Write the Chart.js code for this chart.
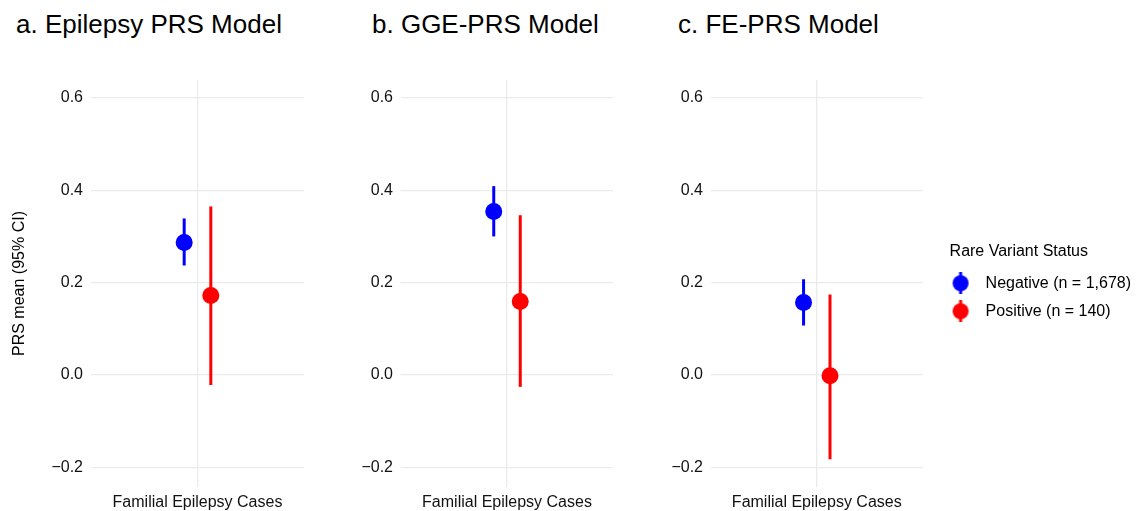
<!DOCTYPE html>
<html>
<head>
<meta charset="utf-8">
<script src="https://cdn.jsdelivr.net/npm/chart.js@4/dist/chart.umd.min.js"></script>
<style>
  html, body { margin: 0; padding: 0; background: #fff; }
  body { width: 1146px; height: 511px; position: relative; overflow: hidden; font-family: "Liberation Sans", Arial, sans-serif; }
  .title { position: absolute; top: 11px; font-size: 26px; line-height: 26px; color: #000; white-space: nowrap; }
  .panel { position: absolute; top: 0; height: 511px; }
</style>
</head>
<body>
<div class="title" style="left:16px">a. Epilepsy PRS Model</div>
<div class="title" style="left:372px">b. GGE-PRS Model</div>
<div class="title" style="left:678px">c. FE-PRS Model</div>
<div class="panel" style="left:0px;width:304px"><canvas id="p0"></canvas></div>
<div class="panel" style="left:340px;width:273px"><canvas id="p1"></canvas></div>
<div class="panel" style="left:640px;width:506px"><canvas id="p2"></canvas></div>
<script>
// values
const panelTitles = ['a. Epilepsy PRS Model', 'b. GGE-PRS Model', 'c. FE-PRS Model'];
const category = 'Familial Epilepsy Cases';
const groups = ['Negative (n = 1,678)', 'Positive (n = 140)'];
const groupColors = ['#0000ff', '#ff0000'];
const negMean = [0.287, 0.354, 0.157];
const negLo = [0.237, 0.300, 0.107];
const negHi = [0.339, 0.409, 0.207];
const posMean = [0.172, 0.159, -0.002];
const posLo = [-0.022, -0.026, -0.183];
const posHi = [0.365, 0.346, 0.174];
const yTicks = [-0.2, 0.0, 0.2, 0.4, 0.6];
const dodge = 0.075;

Chart.defaults.font.family = '"Liberation Sans", Arial, sans-serif';
Chart.defaults.font.size = 16;
Chart.defaults.color = '#111';

// legend key: point with a vertical range line, drawn a bit left of the image centre
function keyIcon(color) {
    var c = document.createElement('canvas');
    c.width = 40;
    c.height = 22;
    var g = c.getContext('2d');
    g.strokeStyle = color;
    g.lineWidth = 3;
    g.beginPath();
    g.moveTo(11, 0);
    g.lineTo(11, 22);
    g.stroke();
    g.fillStyle = color;
    g.beginPath();
    g.arc(11, 11, 8, 0, Math.PI * 2);
    g.fill();
    return c;
}

function makePanel(i, yWidth, withYTitle, withLegend) {
    var means = [negMean[i], posMean[i]];
    var los = [negLo[i], posLo[i]];
    var his = [negHi[i], posHi[i]];
    var xs = [1 - dodge, 1 + dodge];
    var datasets = [];

    for (var k = 0; k < 2; k++) {
        datasets.push({
            type: 'line',
            label: groups[k] + ' CI',
            data: [{x: xs[k], y: los[k]}, {x: xs[k], y: his[k]}],
            borderColor: groupColors[k],
            borderWidth: 3,
            pointRadius: 0,
            fill: false
        });
    }
    for (var k = 0; k < 2; k++) {
        datasets.push({
            type: 'scatter',
            label: groups[k],
            data: [{x: xs[k], y: means[k]}],
            backgroundColor: groupColors[k],
            borderColor: groupColors[k],
            pointRadius: 8.5,
            pointHoverRadius: 8.5,
            borderWidth: 0
        });
    }

    var scales = {
        x: {
            type: 'linear',
            min: 0.4,
            max: 1.6,
            afterBuildTicks: function (s) { s.ticks = [{value: 1}]; },
            afterFit: function (s) { s.height = 24; },
            border: { display: false },
            grid: { color: '#ebebeb', lineWidth: 1.3, drawTicks: false },
            ticks: {
                padding: 6,
                maxRotation: 0,
                color: '#111',
                callback: function () { return category; }
            }
        },
        y: {
            min: -0.243,
            max: 0.639,
            afterBuildTicks: function (s) { s.ticks = yTicks.map(function (v) { return {value: v}; }); },
            afterFit: function (s) { s.width = yWidth; },
            border: { display: false },
            grid: { color: '#ebebeb', lineWidth: 1.3, drawTicks: false },
            title: {
                display: withYTitle,
                text: 'PRS mean (95% CI)',
                color: '#000',
                font: { size: 16 },
                padding: { top: 10, bottom: 0 }
            },
            ticks: {
                padding: 8,
                color: '#111',
                callback: function (v) { return (v < 0 ? '\u2212' : '') + Math.abs(v).toFixed(1); }
            }
        }
    };

    if (withLegend) {
        // empty right axis used as the gap between panel and legend
        scales.gap = {
            type: 'linear',
            position: 'right',
            axis: 'y',
            grid: { display: false },
            border: { display: false },
            ticks: { display: false },
            afterFit: function (s) { s.width = 27; }
        };
    }

    return new Chart(document.getElementById('p' + i), {
        type: 'scatter',
        data: { datasets: datasets },
        options: {
            responsive: true,
            maintainAspectRatio: false,
            animation: false,
            layout: { autoPadding: false, padding: { top: 80, bottom: 0, left: 0, right: withLegend ? 5 : 0 } },
            plugins: {
                tooltip: { enabled: false },
                legend: {
                    display: withLegend,
                    position: 'right',
                    align: 'start',
                    maxWidth: 240,
                    title: {
                        display: true,
                        text: 'Rare Variant Status',
                        position: 'start',
                        color: '#000',
                        font: { size: 16 },
                        padding: { top: 164, bottom: 0 }
                    },
                    labels: {
                        usePointStyle: true,
                        padding: 12,
                        color: '#000',
                        font: { size: 16 },
                        generateLabels: function () {
                            return groups.map(function (g, k) {
                                return {
                                    text: g,
                                    fillStyle: groupColors[k],
                                    strokeStyle: groupColors[k],
                                    lineWidth: 0,
                                    pointStyle: keyIcon(groupColors[k]),
                                    datasetIndex: 2 + k
                                };
                            });
                        }
                    }
                }
            },
            scales: scales
        }
    });
}

makePanel(0, 91, true, false);
makePanel(1, 61, false, false);
makePanel(2, 71, false, true);
</script>
</body>
</html>
